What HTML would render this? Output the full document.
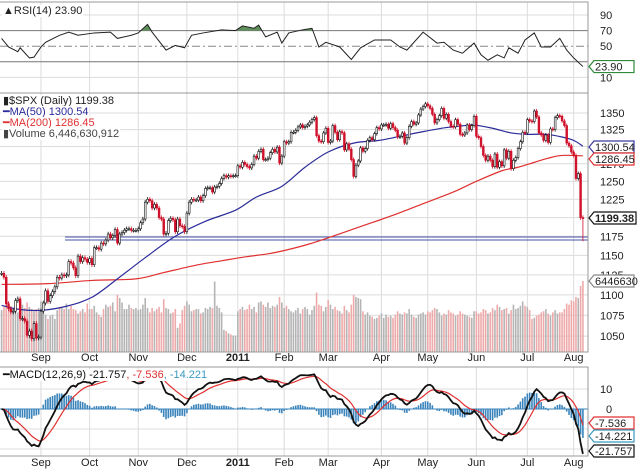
<!DOCTYPE html>
<html><head><meta charset="utf-8"><style>
html,body{margin:0;padding:0;background:#fff;}
svg{display:block;font-family:"Liberation Sans",sans-serif;}
</style></head><body>
<svg id="c" width="640" height="474" viewBox="0 0 640 474" xmlns="http://www.w3.org/2000/svg"></svg>
<script>
// ---- data ----
const closes = [
1127,1122,1089,1083,1079,1080,1093,1095,1071,1071,1068,1051,1056,1047,1065,1048,1049,
1080,1090,1105,1092,1099,1104,1110,1122,1121,1125,1124,1125,1142,1140,1134,1124,1149,1142,1147,1145,1141,
1146,1138,1160,1160,1158,1166,1165,1170,1178,1173,1176,1184,1166,1178,1180,1183,1185,1185,1183,1183,1183,
1185,1193,1198,1221,1225,1223,1213,1218,1213,1200,1198,1178,1179,1196,1199,1197,1181,1198,1189,1188,1181,
1206,1221,1225,1224,1224,1228,1223,1230,1240,1241,1241,1235,1242,1243,1247,1254,1258,1256,1258,1257,1258,1258,
1272,1270,1277,1274,1271,1269,1274,1286,1283,1293,1296,1281,1281,1283,1291,1296,1292,1299,1276,1286,
1307,1305,1307,1321,1321,1324,1329,1332,1328,1330,1332,1336,1340,1343,1316,1308,1307,1320,1327,
1306,1308,1331,1321,1310,1322,1320,1295,1304,1296,1281,1257,1273,1279,1298,1293,1297,1309,1313,1310,1319,1328,1326,
1332,1332,1333,1327,1334,1328,1324,1314,1315,1320,1305,1313,1330,1337,1333,1335,1347,1356,1360,1364,
1361,1357,1348,1335,1340,1346,1357,1342,1348,1337,1330,1329,1340,1333,1318,1317,1320,1332,1325,1331,1345,
1315,1313,1300,1287,1280,1286,1280,1271,1289,1270,1278,1272,1295,1283,1293,1268,1280,1284,1297,1307,1321,1320,
1340,1338,1337,1353,1344,1320,1317,1309,1317,1306,1326,1325,1343,1346,1345,1338,1331,1305,1301,1292,
1287,1254,1261,1200,1199.38];
const volumes = [
3.8,4.1,4.9,4.6,4.1,3.9,4.2,3.6,4.0,4.3,4.0,4.5,4.1,3.9,3.7,3.9,4.0,
4.6,3.7,3.4,3.0,3.3,3.4,3.0,3.8,4.1,4.0,3.9,4.4,3.9,4.2,3.9,3.8,3.5,3.7,3.9,3.6,4.4,
3.9,3.9,4.2,3.6,3.4,3.2,3.9,4.3,4.1,4.2,4.5,3.7,5.2,4.9,4.5,3.9,3.9,4.3,4.0,3.9,4.0,
3.8,3.9,4.3,4.9,4.0,3.6,4.0,3.7,3.9,4.1,3.6,4.8,4.0,3.9,3.5,3.6,3.9,2.2,2.6,3.8,4.2,
4.6,4.3,3.7,3.8,3.9,3.9,3.5,3.6,4.0,3.9,4.1,4.0,6.4,4.2,4.0,3.6,2.0,1.9,1.7,1.6,1.5,1.5,
3.7,3.9,4.1,3.8,3.9,4.3,3.9,4.1,3.6,4.5,4.6,4.3,4.1,4.5,4.0,4.2,4.1,4.3,5.0,4.5,
4.0,4.2,3.9,3.7,3.6,3.8,4.0,3.5,3.9,4.1,3.9,3.4,3.8,4.2,5.4,4.3,4.2,3.7,4.1,
4.7,4.3,3.9,4.1,3.8,3.7,3.5,4.2,3.8,3.6,4.3,5.2,5.0,4.9,4.8,3.7,3.4,3.6,3.3,3.2,3.0,3.1,3.3,
3.5,3.1,3.4,3.2,3.3,3.1,3.4,3.7,3.5,3.4,3.6,3.5,3.9,3.4,3.2,3.1,3.4,3.5,3.6,3.4,
3.7,3.6,3.8,4.0,3.9,3.6,3.3,3.5,3.4,3.8,3.6,3.5,3.3,3.4,3.7,3.5,3.4,3.3,3.2,3.1,3.7,
3.7,3.5,3.6,3.9,3.8,3.5,3.6,4.0,3.8,4.3,4.1,3.8,3.9,4.0,3.5,3.8,4.3,3.9,4.0,4.2,4.6,4.2,
4.1,3.8,3.0,3.1,3.3,3.4,3.6,3.7,3.9,3.5,3.3,3.6,3.8,3.5,3.6,3.6,3.9,4.4,4.3,4.7,
4.6,5.0,4.9,6.0,6.45];
const ma50Days = [0,8,17,28,39,50,62,75,88,101,110,121,131,141,152,163,172,182,192,200,204,212,220,227,235,242,247,251];
const ma50Vals = [1087,1082,1081,1086,1097,1120,1147,1175,1195,1210,1228,1243,1270,1292,1305,1309,1315,1322,1328,1331,1332,1327,1320,1318,1318,1314,1309,1300.54];
const ma200Days = [0,20,39,58,70,85,95,105,115,123,133,142,155,168,182,195,205,216,223,230,236,242,251];
const ma200Vals = [1113,1114,1118,1120,1128,1138,1143,1148,1152,1157,1165,1174,1188,1202,1219,1235,1250,1265,1270,1277,1283,1287,1286.45];
const rsiDays = [0,3,7,8,12,14,17,19,25,29,33,40,47,50,56,59,63,65,71,75,79,82,87,95,101,104,109,111,114,119,121,124,130,134,137,140,146,151,155,161,168,172,175,182,188,191,195,199,204,207,210,214,217,219,223,226,230,233,237,241,244,247,251];
const rsiVals = [60,49,43,48,35,36,49,55,64,68,64,67,68,60,64,67,78,68,45,51,48,64,67,71,70,76,73,77,62,68,54,67,71,73,49,55,49,33,48,58,58,49,45,68,54,55,45,41,54,39,32,39,35,48,41,58,67,49,49,60,45,35,23.9];
const priceTicks = [1350,1325,1275,1250,1225,1175,1150,1125,1100,1075,1050];
const rsiTicks = [90,70,50,10];
const macdTicks = [10,0];
const monthLabels = ["Sep","Oct","Nov","Dec","2011","Feb","Mar","Apr","May","Jun","Jul","Aug"];
const monthStartIdx = [17,38,59,80,102,122,141,164,184,205,227,247];

// ---- axes ----
const X0=1.6, DX=2.316, R=588;
const xd = i => X0 + i*DX;
const yP = p => 113 + 888*Math.log(1350/p);
const yV = v => 352 - v/6.45*71;
const yR = v => 15 + (90-v)*0.78;
const yM = v => 409 - v*2;

const svg=document.getElementById('c');
const NS='http://www.w3.org/2000/svg';
function el(tag,attrs,parent){const e=document.createElementNS(NS,tag);for(const k in attrs)e.setAttribute(k,attrs[k]);(parent||svg).appendChild(e);return e;}
function txt(x,y,s,attrs){const e=el('text',Object.assign({x:x,y:y,'font-size':11,fill:'#222'},attrs||{}));e.textContent=s;return e;}
function smooth(pts){let d='M'+pts[0][0]+','+pts[0][1];for(let i=1;i<pts.length;i++){const p0=pts[i-2]||pts[i-1],p1=pts[i-1],p2=pts[i],p3=pts[i+1]||p2;
  d+=` C${p1[0]+(p2[0]-p0[0])/6},${p1[1]+(p2[1]-p0[1])/6} ${p2[0]-(p3[0]-p1[0])/6},${p2[1]-(p3[1]-p1[1])/6} ${p2[0]},${p2[1]}`;}return d;}

const panels=[[0,2,R,93],[0,93,R,352],[0,367,R,456]];
monthStartIdx.forEach(i=>{
  panels.forEach(p=>{const l=el('line',{x1:xd(i),x2:xd(i),y1:p[1],y2:p[3],stroke:'#dcdcdc','stroke-width':1});
  
  });
});
priceTicks.concat([1300,1200]).forEach(t=>{const l=el('line',{x1:0,x2:R,y1:yP(t),y2:yP(t),stroke:'#dcdcdc'});
  
  });
[90,10].forEach(t=>{const l=el('line',{x1:0,x2:R,y1:yR(t),y2:yR(t),stroke:'#dcdcdc'});
  
  });
[70,30].forEach(t=>{const l=el('line',{x1:0,x2:R,y1:yR(t),y2:yR(t),stroke:'#777'});
  
  });
const l50=el('line',{x1:0,x2:R,y1:yR(50),y2:yR(50),stroke:'#888','stroke-dasharray':'8,3,2,3'});


[10,0,-10,-20].forEach(t=>{const l=el('line',{x1:0,x2:R,y1:yM(t),y2:yM(t),stroke:'#dcdcdc'});
  
  });

// RSI
const rsiPts=rsiDays.map((d,k)=>xd(d)+','+yR(rsiVals[k])).join(' ');
const cp=el('clipPath',{id:'above70'});el('rect',{x:0,y:0,width:R,height:yR(70)},cp);
const rf=el('polygon',{points:xd(0)+','+yR(70)+' '+rsiPts+' '+xd(251)+','+yR(70),fill:'#5f8f5a','clip-path':'url(#above70)'});


const rl=el('polyline',{points:rsiPts,fill:'none',stroke:'#222','stroke-width':1});



// volume
volumes.forEach((v,i)=>{const up=i===0||closes[i]>=closes[i-1];
  const r=el('rect',{x:xd(i)-0.8,y:yV(v),width:1.6,height:352-yV(v),fill:up?'#b4b4b4':'#eeaaaa'});
  
  });

// support line
const s1=el('line',{x1:65,x2:R,y1:237,y2:237,stroke:'#4450a8','stroke-width':1});


const s2=el('line',{x1:65,x2:R,y1:240,y2:240,stroke:'#4450a8','stroke-width':1});



// MAs
const m200=el('path',{d:smooth(ma200Days.map((d,k)=>[xd(d),yP(ma200Vals[k])])),fill:'none',stroke:'#e03030','stroke-width':1.2});


const m50=el('path',{d:smooth(ma50Days.map((d,k)=>[xd(d),yP(ma50Vals[k])])),fill:'none',stroke:'#2a2a9a','stroke-width':1.2});



// candles
closes.forEach((c,i)=>{const o=i?closes[i-1]:c;const up=c>=o;
  const hi=Math.max(o,c)+3, lo=Math.min(o,c)-3 - (i===closes.length-1?28:0);
  const col=up?'#111':'#d0102a';
  const w=el('line',{x1:xd(i),x2:xd(i),y1:yP(hi),y2:yP(lo),stroke:col,'stroke-width':0.8});
  
  
  const b=el('rect',{x:xd(i)-0.9,y:Math.min(yP(o),yP(c)),width:1.8,height:Math.max(1,Math.abs(yP(o)-yP(c))),fill:up?'#fff':col,stroke:col,'stroke-width':0.6});
  
  });

// MACD computed from closes
function ema(arr,n){const k=2/(n+1);let out=[],e=arr[0];arr.forEach((v,i)=>{e=i?v*k+e*(1-k):v;out.push(e);});return out;}
const e12=ema(closes,12),e26=ema(closes,26);
const macd=e12.map((v,i)=>v-e26[i]);
const sig=ema(macd,9);
macd.forEach((m,i)=>{const h=m-sig[i];
  const r=el('rect',{x:xd(i)-0.8,y:Math.min(yM(0),yM(h)),width:1.6,height:Math.abs(yM(h)-yM(0)),fill:'#3a84bb'});
  
  });
const zl=el('line',{x1:0,x2:R,y1:yM(0),y2:yM(0),stroke:'#3a84bb','stroke-width':1});


const sl=el('polyline',{points:sig.map((v,i)=>xd(i)+','+yM(v)).join(' '),fill:'none',stroke:'#e03030','stroke-width':1.2});


const ml=el('polyline',{points:macd.map((v,i)=>xd(i)+','+yM(v)).join(' '),fill:'none',stroke:'#111','stroke-width':1.8});



panels.forEach(p=>{const r=el('rect',{x:p[0]-1,y:p[1],width:p[2]+1,height:p[3]-p[1],fill:'none',stroke:'#999'});
  
  });
const white=el('rect',{x:R+1,y:0,width:52,height:474,fill:'#fff'});



priceTicks.forEach(t=>{const e=txt(600,yP(t)+4,String(t));
  
  });
rsiTicks.forEach(t=>{const e=txt(t<10?606:600,yR(t)+4,String(t));
  
  });
macdTicks.forEach(t=>{const e=txt(t===0?606:600,yM(t)+4,String(t));
  
  });
monthLabels.forEach((m,k)=>{[361,466].forEach(y=>{const e=txt(xd(monthStartIdx[k]),y,m,{'text-anchor':'middle','font-weight':m==='2011'?'bold':'normal'});
  
  });});

function tag(y,s,col,bold,name){
  const w=bold?42:40;
  const p=el('polygon',{points:`${R+1},${y} ${R+6},${y-6} ${R+6+w},${y-6} ${R+6+w},${y+6} ${R+6},${y+6}`,fill:'#fff',stroke:col,'stroke-width':1.2});
  
  
  const t=txt(R+7,y+4,s,{'font-weight':bold?'bold':'normal','font-size':11});
  
  
}
tag(yR(23.9),'23.90','#2f8a3a',false,'rsi');
tag(147,'1300.54','#3a3aa0',false,'ma50');
tag(159,'1286.45','#e03030',false,'ma200');
tag(218,'1199.38','#111',true,'price');
tag(281,'6446630','#888',false,'volume');
tag(423,'-7.536','#e03030',false,'macd-signal');
tag(436,'-14.221','#3a9ac0',false,'macd-histogram');
tag(451,'-21.757','#111',false,'macd');

function leg(x,y,parts,name){const t=el('text',{x:x,y:y,'font-size':11});parts.forEach(p=>{const s=el('tspan',{fill:p[1]},t);s.textContent=p[0];});
  const bb=t.getBBox();const bg=el('rect',{x:bb.x-1,y:bb.y,width:bb.width+2,height:bb.height,fill:'#fff'});svg.insertBefore(bg,t);
  
  
  
  }
leg(3,14,[['▲RSI(14) 23.90','#222']],'rsi-legend');
leg(3,104,[['▮$SPX (Daily) 1199.38','#222']],'price-legend');
leg(3,115,[['━MA(50) 1300.54','#2a2a9a']],'ma50-legend');
leg(3,126,[['━MA(200) 1286.45','#e03030']],'ma200-legend');
leg(3,137,[['▮Volume 6,446,630,912','#444']],'volume-legend');
leg(3,378,[['━MACD(12,26,9) -21.757','#111'],[', -7.536','#e03030'],[', -14.221','#3a9ac0']],'macd-legend');
</script>
</body></html>
